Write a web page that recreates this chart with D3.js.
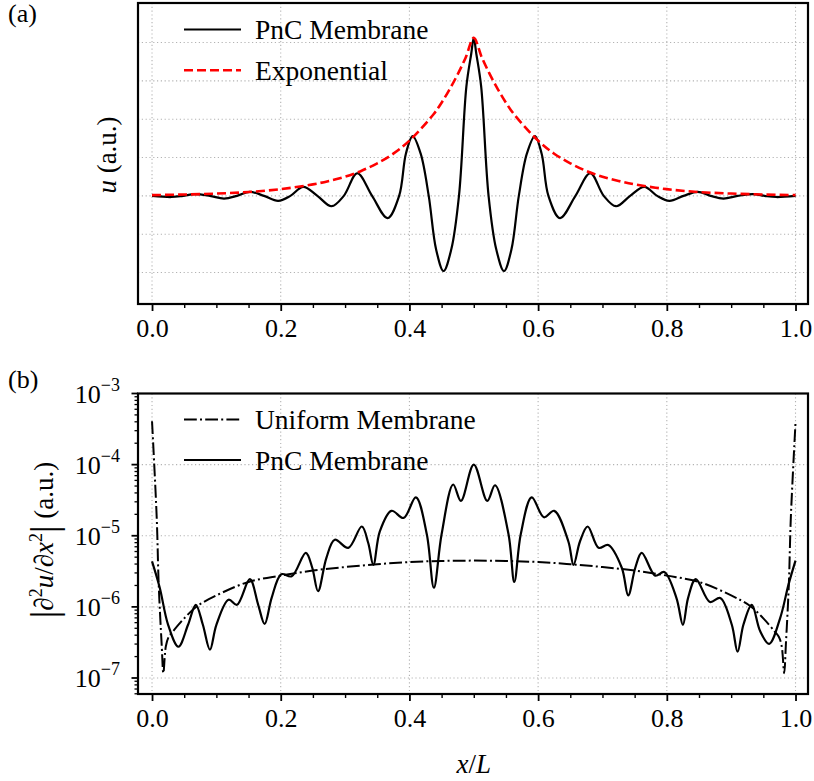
<!DOCTYPE html>
<html><head><meta charset="utf-8">
<script src="https://cdn.jsdelivr.net/npm/d3@7/dist/d3.min.js"></script>
<style>
body{margin:0;background:#fff}
svg{display:block}
svg text{font-family:"Liberation Serif","Tinos","Times New Roman","DejaVu Serif",serif !important;fill:#000}
</style>
</head><body>
<svg id="c" width="814" height="781"></svg>
<script>
// ---------- data ----------
const X_TICKS = [0, 0.2, 0.4, 0.6, 0.8, 1.0];
const X_TICK_LABELS = ["0.0", "0.2", "0.4", "0.6", "0.8", "1.0"];
const U_GRID = [-2, -1, 0, 1, 2, 3, 4];
const LOG_TICKS = [1e-7, 1e-6, 1e-5, 1e-4, 1e-3];
const LOG_TICK_EXP = ["\u22127", "\u22126", "\u22125", "\u22124", "\u22123"];

// panel (a): PnC membrane displacement
const PNC_X = [0, 0.03, 0.048, 0.066, 0.09, 0.112, 0.132, 0.152, 0.174, 0.196, 0.215, 0.235, 0.257, 0.279, 0.298, 0.319, 0.342, 0.366, 0.384, 0.3945, 0.405, 0.4175, 0.43, 0.4415, 0.453, 0.465, 0.477, 0.4885, 0.496, 0.5, 0.504, 0.5115, 0.523, 0.535, 0.547, 0.5585, 0.57, 0.5825, 0.595, 0.6055, 0.616, 0.634, 0.658, 0.681, 0.702, 0.721, 0.743, 0.765, 0.785, 0.804, 0.826, 0.848, 0.868, 0.888, 0.91, 0.934, 0.952, 0.97, 1.0];
const PNC_U = [0, -0.03, 0, 0.045, 0, -0.07, 0, 0.105, 0, -0.13, 0, 0.235, 0, -0.27, 0, 0.59, 0, -0.58, 0, 1.1, 1.56, 1.1, 0, -1.4, -1.96, -1.4, 0, 2.85, 3.7, 4.12, 3.7, 2.85, 0, -1.4, -1.96, -1.4, 0, 1.1, 1.56, 1.1, 0, -0.58, 0, 0.59, 0, -0.27, 0, 0.235, 0, -0.13, 0, 0.105, 0, -0.07, 0, 0.045, 0, -0.03, 0];

// panel (a): exponential envelope
const EXP_X = [0, 0.05, 0.1, 0.15, 0.2, 0.25, 0.275, 0.3, 0.325, 0.35, 0.375, 0.4, 0.4375, 0.45, 0.4625, 0.475, 0.4875, 0.5, 0.5125, 0.525, 0.5375, 0.55, 0.5625, 0.6, 0.625, 0.65, 0.675, 0.7, 0.725, 0.75, 0.8, 0.85, 0.9, 0.95, 1.0];
const EXP_U = [0.02, 0.035, 0.06, 0.10, 0.175, 0.30, 0.39, 0.50, 0.65, 0.85, 1.10, 1.44, 2.13, 2.43, 2.78, 3.17, 3.61, 4.12, 3.61, 3.17, 2.78, 2.43, 2.13, 1.44, 1.10, 0.85, 0.65, 0.50, 0.39, 0.30, 0.175, 0.10, 0.06, 0.035, 0.02];

// panel (b): uniform membrane |d2u/dx2|
const UNI_X = [0, 0.0073, 0.0104, 0.015, 0.0176, 0.0215, 0.026, 0.033, 0.05, 0.07, 0.1, 0.15, 0.2, 0.25, 0.3, 0.35, 0.4, 0.45, 0.5, 0.55, 0.6, 0.65, 0.7, 0.75, 0.8, 0.85, 0.9, 0.93, 0.95, 0.967, 0.974, 0.9785, 0.9824, 0.985, 0.9896, 0.9927, 1.0];
const UNI_V = [4.07e-4, 1.78e-5, 2.04e-6, 2.95e-7, 1.17e-7, 2.8e-7, 3.8e-7, 4.57e-7, 6.9e-7, 1.02e-6, 1.45e-6, 2.24e-6, 2.75e-6, 3.24e-6, 3.63e-6, 3.98e-6, 4.27e-6, 4.42e-6, 4.47e-6, 4.42e-6, 4.27e-6, 3.98e-6, 3.63e-6, 3.24e-6, 2.75e-6, 2.24e-6, 1.45e-6, 1.02e-6, 6.9e-7, 4.57e-7, 3.8e-7, 2.8e-7, 1.17e-7, 2.95e-7, 2.04e-6, 1.78e-5, 3.9e-4];

// panel (b): PnC membrane |d2u/dx2|
const PNCB_X = [0, 0.012, 0.025, 0.041, 0.056, 0.068, 0.079, 0.09, 0.1, 0.119, 0.132, 0.152, 0.165, 0.175, 0.186, 0.201, 0.217, 0.239, 0.249, 0.258, 0.271, 0.284, 0.305, 0.326, 0.336, 0.344, 0.354, 0.372, 0.391, 0.41, 0.427, 0.438, 0.45, 0.468, 0.48, 0.5, 0.521, 0.533, 0.554, 0.563, 0.573, 0.59, 0.609, 0.625, 0.647, 0.655, 0.665, 0.677, 0.694, 0.709, 0.73, 0.74, 0.751, 0.761, 0.782, 0.796, 0.815, 0.825, 0.833, 0.845, 0.867, 0.883, 0.901, 0.91, 0.919, 0.932, 0.945, 0.959, 0.976, 0.989, 1.0];
const PNCB_V = [4.37e-6, 1.86e-6, 5.6e-7, 2.75e-7, 5.6e-7, 1.07e-6, 5.6e-7, 2.5e-7, 5.6e-7, 1.26e-6, 1.07e-6, 2.45e-6, 1.07e-6, 5.75e-7, 1.35e-6, 2.88e-6, 2.69e-6, 5.75e-6, 3.55e-6, 1.66e-6, 4.9e-6, 8.8e-6, 6.76e-6, 1.35e-5, 7.9e-6, 3.89e-6, 1.15e-5, 2.24e-5, 1.78e-5, 3.47e-5, 1.05e-5, 1.86e-6, 1.05e-5, 5.25e-5, 3.09e-5, 1.0e-4, 3.09e-5, 5.13e-5, 1.05e-5, 2.24e-6, 1.05e-5, 3.47e-5, 1.82e-5, 2.24e-5, 8.3e-6, 3.89e-6, 8.3e-6, 1.35e-5, 6.76e-6, 7.4e-6, 3.55e-6, 1.45e-6, 3.55e-6, 5.75e-6, 2.75e-6, 3.09e-6, 1.33e-6, 5.6e-7, 1.33e-6, 2.45e-6, 1.17e-6, 1.33e-6, 5.6e-7, 2.34e-7, 5.6e-7, 1.07e-6, 4.57e-7, 3.02e-7, 6.9e-7, 2.04e-6, 4.47e-6];

// ---------- drawing ----------
const svg = d3.select("#c");
const FONT = '"Liberation Serif","Tinos","Times New Roman","DejaVu Serif",serif';
const L = 138, R = 808;
const A_TOP = 3, A_BOT = 304, B_TOP = 393.5, B_BOT = 694;

const x = d3.scaleLinear().domain([-0.0218, 1.0194]).range([L, R]);
const yA = d3.scaleLinear().domain([-2.82, 5.03]).range([A_BOT, A_TOP]);
const yB = d3.scaleLog().domain([Math.pow(10, -7.225), 1e-3]).range([B_BOT, B_TOP]);

function grid(g, yScale, yVals, top, bot) {
  const gs = g.append("g").attr("stroke", "#b3b3b3").attr("stroke-width", 1.1).attr("stroke-dasharray", "1.2,2.6");
  gs.selectAll(".v").data(X_TICKS).join("line")
    .attr("x1", d => x(d)).attr("x2", d => x(d)).attr("y1", top).attr("y2", bot);
  gs.selectAll(".h").data(yVals).join("line")
    .attr("x1", L).attr("x2", R).attr("y1", d => yScale(d)).attr("y2", d => yScale(d));
}

function xAxis(g, yPos) {
  const major = d3.axisBottom(x).tickValues(X_TICKS).tickFormat((d, i) => X_TICK_LABELS[i]).tickSize(7).tickPadding(8);
  const ax = g.append("g").attr("transform", `translate(0,${yPos})`).attr("font-family", FONT).call(major);
  ax.select(".domain").remove();
  ax.selectAll("line").attr("stroke-width", 1.8);
  ax.selectAll("text").attr("font-size", 26).attr("font-family", FONT).attr("fill", "#000");
  const minorVals = x.ticks(20).filter(v => !X_TICKS.some(t => Math.abs(t - v) < 1e-9));
  const minor = d3.axisBottom(x).tickValues(minorVals).tickFormat("").tickSize(4);
  const ax2 = g.append("g").attr("transform", `translate(0,${yPos})`).call(minor);
  ax2.select(".domain").remove();
  ax2.selectAll("line").attr("stroke-width", 1.4);
}

// ----- panel (a) -----
const gA = svg.append("g");
grid(gA, yA, U_GRID, A_TOP, A_BOT);
const lineA = d3.line().x(d => x(d[0])).y(d => yA(d[1])).curve(d3.curveCatmullRom.alpha(0.5));
gA.append("path").datum(d3.zip(PNC_X, PNC_U)).attr("d", lineA)
  .attr("fill", "none").attr("stroke", "#000").attr("stroke-width", 2.2);
gA.append("path").datum(d3.zip(EXP_X, EXP_U)).attr("d", lineA)
  .attr("fill", "none").attr("stroke", "#ff0000").attr("stroke-width", 2.6).attr("stroke-dasharray", "9,4");
gA.append("rect").attr("x", L).attr("y", A_TOP).attr("width", R - L).attr("height", A_BOT - A_TOP)
  .attr("fill", "none").attr("stroke", "#000").attr("stroke-width", 2.2);
xAxis(gA, A_BOT);

// legend (a)
const legA = [
  {label: "PnC Membrane", color: "#000", dash: null, w: 2.2},
  {label: "Exponential", color: "#ff0000", dash: "9,4", w: 2.6}
];
legA.forEach((d, i) => {
  const yy = 29.5 + i * 40.7;
  gA.append("line").attr("x1", 184).attr("x2", 241).attr("y1", yy).attr("y2", yy)
    .attr("stroke", d.color).attr("stroke-width", d.w).attr("stroke-dasharray", d.dash);
  gA.append("text").attr("x", 255).attr("y", yy + 9.8).attr("font-size", 27.5).text(d.label);
});

// y label (a)
svg.append("text").attr("transform", "translate(116,155) rotate(-90)").attr("text-anchor", "middle")
  .attr("font-size", 27)
  .call(t => { t.append("tspan").attr("font-style", "italic").text("u"); t.append("tspan").text(" (a.u.)"); });
svg.append("text").attr("x", 8).attr("y", 22).attr("font-size", 26).text("(a)");

// ----- panel (b) -----
const gB = svg.append("g");
grid(gB, yB, LOG_TICKS, B_TOP, B_BOT);
const lineB = d3.line().x(d => x(d[0])).y(d => yB(d[1])).curve(d3.curveCatmullRom.alpha(0.5));
gB.append("path").datum(d3.zip(UNI_X, UNI_V)).attr("d", lineB)
  .attr("fill", "none").attr("stroke", "#000").attr("stroke-width", 2).attr("stroke-dasharray", "12.8,3.2,2,3.2");
gB.append("path").datum(d3.zip(PNCB_X, PNCB_V)).attr("d", lineB)
  .attr("fill", "none").attr("stroke", "#000").attr("stroke-width", 2.2);
gB.append("rect").attr("x", L).attr("y", B_TOP).attr("width", R - L).attr("height", B_BOT - B_TOP)
  .attr("fill", "none").attr("stroke", "#000").attr("stroke-width", 2.2);
xAxis(gB, B_BOT);

// log y axis ticks
const minorLog = yB.ticks().filter(v => !LOG_TICKS.some(t => Math.abs(Math.log10(t) - Math.log10(v)) < 1e-6));
gB.selectAll(".ymin").data(minorLog).join("line")
  .attr("x1", L - 3.5).attr("x2", L).attr("y1", d => yB(d)).attr("y2", d => yB(d))
  .attr("stroke", "#000").attr("stroke-width", 1.3);
gB.selectAll(".ymaj").data(LOG_TICKS).join("line")
  .attr("x1", L - 6.5).attr("x2", L).attr("y1", d => yB(d)).attr("y2", d => yB(d))
  .attr("stroke", "#000").attr("stroke-width", 1.8);
LOG_TICKS.forEach((v, i) => {
  const t = gB.append("text").attr("x", 120).attr("y", yB(v) + 9).attr("text-anchor", "end").attr("font-size", 26);
  t.append("tspan").text("10");
  t.append("tspan").attr("font-size", 18).attr("dy", -12).text(LOG_TICK_EXP[i]);
});

// legend (b)
const legB = [
  {label: "Uniform Membrane", dash: "12.8,3.2,2,3.2", w: 2},
  {label: "PnC Membrane", dash: null, w: 2.2}
];
legB.forEach((d, i) => {
  const yy = 419.5 + i * 40.5;
  gB.append("line").attr("x1", 184).attr("x2", 241).attr("y1", yy).attr("y2", yy)
    .attr("stroke", "#000").attr("stroke-width", d.w).attr("stroke-dasharray", d.dash);
  gB.append("text").attr("x", 255).attr("y", yy + 9.5).attr("font-size", 27.5).text(d.label);
});

// y label (b)
svg.append("text").attr("transform", "translate(53,540) rotate(-90)").attr("text-anchor", "middle")
  .attr("font-size", 27)
  .call(t => {
    t.append("tspan").attr("font-size", 38).attr("dy", 4).text("|");
    t.append("tspan").attr("dy", -4).text("\u2202");
    t.append("tspan").attr("font-size", 18).attr("dy", -11).text("2");
    t.append("tspan").attr("font-style", "italic").attr("dy", 11).text("u");
    t.append("tspan").text("/\u2202");
    t.append("tspan").attr("font-style", "italic").text("x");
    t.append("tspan").attr("font-size", 18).attr("dy", -11).text("2");
    t.append("tspan").attr("font-size", 38).attr("dy", 15).text("|");
    t.append("tspan").attr("dy", -4).text(" (a.u.)");
  });
svg.append("text").attr("x", 8).attr("y", 388).attr("font-size", 26).text("(b)");

// x label
svg.append("text").attr("x", x(0.5)).attr("y", 773).attr("text-anchor", "middle").attr("font-size", 27)
  .call(t => {
    t.append("tspan").attr("font-style", "italic").text("x");
    t.append("tspan").text("/");
    t.append("tspan").attr("font-style", "italic").text("L");
  });
</script>
</body></html>
